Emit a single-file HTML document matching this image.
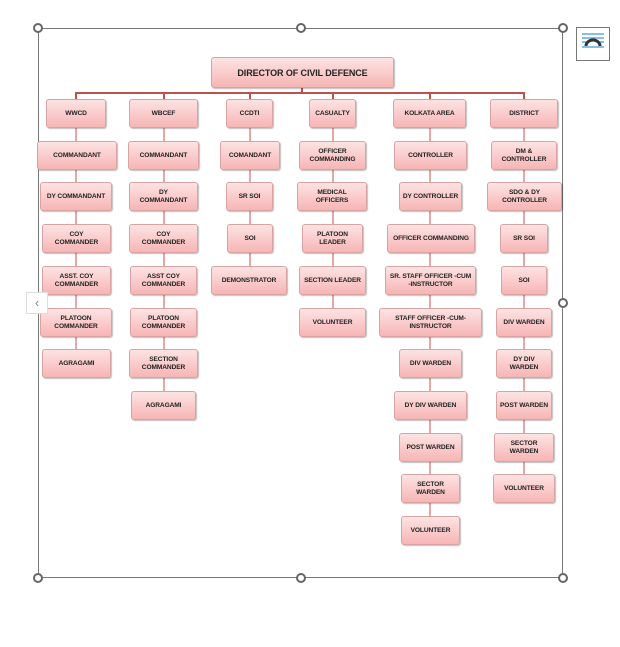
<!DOCTYPE html>
<html><head><meta charset="utf-8"><style>
body{margin:0;width:620px;height:647px;background:#fff;position:relative;overflow:hidden;font-family:"Liberation Sans",sans-serif}
.b{position:absolute;height:29px;box-sizing:border-box;border:1px solid #d9a3a3;border-radius:3px;background:linear-gradient(#fde3e3,#f7b5b5);box-shadow:1px 1px 1px rgba(0,0,0,.25);display:flex;align-items:center;justify-content:center;text-align:center;font-size:6.6px;font-weight:bold;color:#222;line-height:8px;letter-spacing:-.1px}
.v{position:absolute;width:2px;background:#e8a6a6}
.h{position:absolute;height:2px;background:#c0504d}
.hd{position:absolute;width:10px;height:10px;border:2px solid #666;border-radius:50%;background:#fff;box-sizing:border-box}
</style></head><body>
<div style="position:absolute;left:38px;top:28px;width:525px;height:550px;border:1px solid #777;box-sizing:border-box"></div>
<!-- connectors -->
<div class="h" style="left:76px;top:92px;width:449px"></div>
<div class="h" style="left:301px;top:86px;width:2px;height:8px"></div>
<div class="v" style="left:75px;top:93px;height:423px;background:#e8a6a6;height:270px"></div>
<div class="v" style="left:163px;top:93px;height:310px"></div>
<div class="v" style="left:249px;top:93px;height:185px"></div>
<div class="v" style="left:332px;top:93px;height:230px"></div>
<div class="v" style="left:429px;top:93px;height:435px"></div>
<div class="v" style="left:523px;top:93px;height:395px"></div>
<div class="h" style="left:75px;top:92px;width:2px;height:7px"></div>
<div class="h" style="left:163px;top:92px;width:2px;height:7px"></div>
<div class="h" style="left:249px;top:92px;width:2px;height:7px"></div>
<div class="h" style="left:332px;top:92px;width:2px;height:7px"></div>
<div class="h" style="left:429px;top:92px;width:2px;height:7px"></div>
<div class="h" style="left:523px;top:92px;width:2px;height:7px"></div>
<div class="b" style="left:211px;top:57px;width:183px;height:31px;font-size:9px">DIRECTOR OF CIVIL DEFENCE</div>
<!-- col1 -->
<div class="b" style="left:46px;top:99px;width:60px">WWCD</div>
<div class="b" style="left:37px;top:141px;width:80px">COMMANDANT</div>
<div class="b" style="left:40px;top:182px;width:72px">DY COMMANDANT</div>
<div class="b" style="left:42px;top:224px;width:69px">COY<br>COMMANDER</div>
<div class="b" style="left:42px;top:266px;width:69px">ASST. COY<br>COMMANDER</div>
<div class="b" style="left:40px;top:308px;width:72px">PLATOON<br>COMMANDER</div>
<div class="b" style="left:42px;top:349px;width:69px">AGRAGAMI</div>
<!-- col2 -->
<div class="b" style="left:129px;top:99px;width:69px">WBCEF</div>
<div class="b" style="left:128px;top:141px;width:71px">COMMANDANT</div>
<div class="b" style="left:129px;top:182px;width:69px">DY<br>COMMANDANT</div>
<div class="b" style="left:129px;top:224px;width:69px">COY<br>COMMANDER</div>
<div class="b" style="left:130px;top:266px;width:67px">ASST COY<br>COMMANDER</div>
<div class="b" style="left:130px;top:308px;width:67px">PLATOON<br>COMMANDER</div>
<div class="b" style="left:129px;top:349px;width:69px">SECTION<br>COMMANDER</div>
<div class="b" style="left:131px;top:391px;width:65px">AGRAGAMI</div>
<!-- col3 -->
<div class="b" style="left:226px;top:99px;width:47px">CCDTI</div>
<div class="b" style="left:220px;top:141px;width:60px">COMANDANT</div>
<div class="b" style="left:226px;top:182px;width:47px">SR SOI</div>
<div class="b" style="left:227px;top:224px;width:46px">SOI</div>
<div class="b" style="left:211px;top:266px;width:76px">DEMONSTRATOR</div>
<!-- col4 -->
<div class="b" style="left:309px;top:99px;width:47px">CASUALTY</div>
<div class="b" style="left:299px;top:141px;width:67px">OFFICER<br>COMMANDING</div>
<div class="b" style="left:297px;top:182px;width:70px">MEDICAL<br>OFFICERS</div>
<div class="b" style="left:302px;top:224px;width:61px">PLATOON<br>LEADER</div>
<div class="b" style="left:299px;top:266px;width:67px">SECTION LEADER</div>
<div class="b" style="left:299px;top:308px;width:67px">VOLUNTEER</div>
<!-- col5 -->
<div class="b" style="left:393px;top:99px;width:73px">KOLKATA AREA</div>
<div class="b" style="left:394px;top:141px;width:73px">CONTROLLER</div>
<div class="b" style="left:399px;top:182px;width:63px">DY CONTROLLER</div>
<div class="b" style="left:387px;top:224px;width:88px">OFFICER COMMANDING</div>
<div class="b" style="left:385px;top:266px;width:91px">SR. STAFF OFFICER -CUM<br>-INSTRUCTOR</div>
<div class="b" style="left:379px;top:308px;width:103px">STAFF OFFICER -CUM-<br>INSTRUCTOR</div>
<div class="b" style="left:399px;top:349px;width:63px">DIV WARDEN</div>
<div class="b" style="left:394px;top:391px;width:73px">DY DIV WARDEN</div>
<div class="b" style="left:399px;top:433px;width:63px">POST WARDEN</div>
<div class="b" style="left:401px;top:474px;width:59px">SECTOR<br>WARDEN</div>
<div class="b" style="left:401px;top:516px;width:59px">VOLUNTEER</div>
<!-- col6 -->
<div class="b" style="left:490px;top:99px;width:68px">DISTRICT</div>
<div class="b" style="left:491px;top:141px;width:66px">DM &amp;<br>CONTROLLER</div>
<div class="b" style="left:487px;top:182px;width:75px">SDO &amp; DY<br>CONTROLLER</div>
<div class="b" style="left:500px;top:224px;width:48px">SR SOI</div>
<div class="b" style="left:501px;top:266px;width:46px">SOI</div>
<div class="b" style="left:496px;top:308px;width:56px">DIV WARDEN</div>
<div class="b" style="left:496px;top:349px;width:56px">DY DIV<br>WARDEN</div>
<div class="b" style="left:496px;top:391px;width:56px">POST WARDEN</div>
<div class="b" style="left:494px;top:433px;width:60px">SECTOR<br>WARDEN</div>
<div class="b" style="left:493px;top:474px;width:62px">VOLUNTEER</div>
<!-- handles -->
<div class="hd" style="left:33px;top:23px"></div>
<div class="hd" style="left:296px;top:23px"></div>
<div class="hd" style="left:558px;top:23px"></div>
<div class="hd" style="left:558px;top:298px"></div>
<div class="hd" style="left:33px;top:573px"></div>
<div class="hd" style="left:296px;top:573px"></div>
<div class="hd" style="left:558px;top:573px"></div>
<div style="position:absolute;left:26px;top:292px;width:22px;height:22px;box-sizing:border-box;border:1px solid #ddd;background:#fff;color:#888;font-size:13px;line-height:20px;text-align:center">‹</div>
<div style="position:absolute;left:576px;top:27px;width:34px;height:34px;box-sizing:border-box;border:1px solid #777;background:#fff">
<svg width="32" height="32" viewBox="0 0 32 32"><g stroke="#3a9ad9" stroke-width="1.3"><line x1="5" y1="6" x2="27" y2="6"/><line x1="5" y1="10" x2="27" y2="10"/><line x1="5" y1="14" x2="9" y2="14"/><line x1="23" y1="14" x2="27" y2="14"/><line x1="5" y1="19" x2="27" y2="19"/></g><path d="M9 18 A7 6 0 0 1 23 18" fill="none" stroke="#333" stroke-width="3"/></svg></div>
</body></html>
